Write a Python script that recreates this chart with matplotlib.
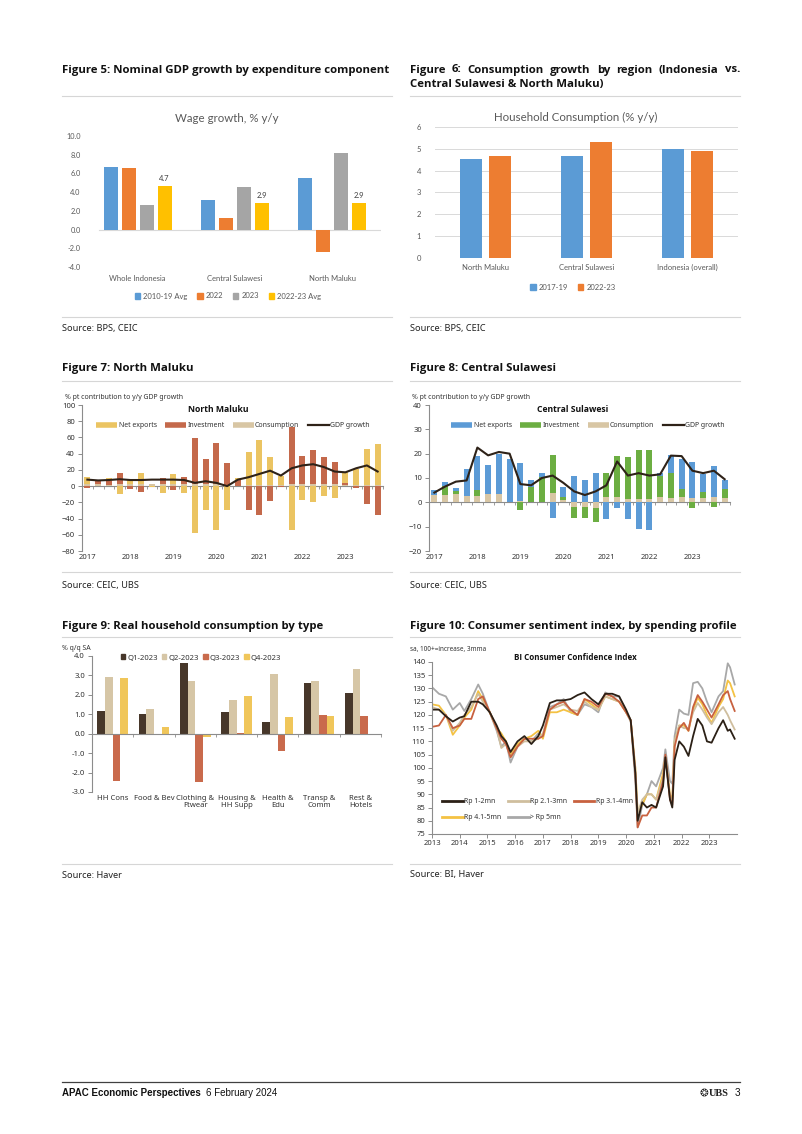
import numpy as np
import matplotlib
matplotlib.use('Agg')
import matplotlib.pyplot as plt
from matplotlib.lines import Line2D
from matplotlib.patches import Patch

plt.rcParams['font.family'] = ['Noto Sans', 'DejaVu Sans']

# ── Data ─────────────────────────────────────────────────────────────────────

# Figure 5: wage growth, % y/y
wage_regions = ['Whole Indonesia', 'Central Sulawesi', 'North Maluku']
wage_names = ['2010-19 Avg', '2022', '2023', '2022-23 Avg']
wage_avg_1019 = [6.7, 3.2, 5.5]
wage_2022 = [6.6, 1.25, -2.45]
wage_2023 = [2.6, 4.5, 8.15]
wage_avg_2223 = [4.65, 2.85, 2.85]
wage_point_labels = ['4.7', '2.9', '2.9']

# Figure 6: household consumption, % y/y
hc_regions = ['North Maluku', 'Central Sulawesi', 'Indonesia (overall)']
hc_2017_19 = [4.52, 4.66, 4.97]
hc_2022_23 = [4.67, 5.31, 4.88]

# Figures 7/8: quarterly contributions, 2017Q1..2023Q4
year_labels = ['2017', '2018', '2019', '2020', '2021', '2022', '2023']

nm_cons = [2, 2, 1, 2, 2, 2, 2, 2, 2, 2, 2, 2, 2, 1, 0, 1, 1, 1, 1, 3, 3, 3, 2, 2, 1, 1, 1, 1]
nm_inv = [-2, 4, 5, 14, -3, -7, 1, 8, -5, 9, 57, 31, 51, 28, 8, -30, -36, -18, -1, 70, 34, 41, 34, 28, 3, -2, -22, -35]
nm_nx = [9, 1, 4, -10, 5, 14, -1, -8, 13, -8, -58, -29, -54, -29, 2, 41, 56, 35, 11, -54, -17, -19, -12, -15, 13, 20, 45, 51]
nm_gdp = [8, 7, 7.5, 8.5, 7.5, 7.5, 8, 8, 8, 7.5, 4, 6, 4, 0, 8, 11, 15, 19, 13, 22, 25.5, 27, 23.5, 18, 17, 22, 25.5, 18]

cs_cons = [3, 3.2, 3.3, 2.7, 2.4, 3.3, 3.5, 0.2, 0.6, 0, 0, 3.7, 1, -2, -2, -2.3, 2, 2, 1.4, 1.5, 1.5, 2, 1.8, 2, 1.8, 1.8, 2, 1.8]
cs_inv = [0, 3.7, 1.3, 0, 2.6, 0, 0, 0, -3.2, 6.2, 10.3, 15.6, 1, -4.4, -4.5, -5.7, 10.1, 16.9, 17.2, 19.9, 20.2, 9, 10.2, 3.5, -2.5, 2.3, -2, 3.7]
cs_nx = [2, 1.5, 1.4, 10.8, 13.9, 11.9, 16.2, 17.5, 15.5, 2.9, 1.6, -6.6, 4.5, 10.8, 9, 12.1, -6.9, -2.5, -6.9, -10.8, -11.5, 1, 7.3, 12.2, 14.8, 7.6, 12.9, 3.5]
cs_gdp = [4, 6.5, 8.5, 9, 22.5, 19.3, 20.7, 20, 7.5, 7, 10, 11, 8, 4.5, 3, 4.5, 7, 16.8, 11, 12, 11, 11.5, 19.2, 19, 13, 12, 13, 9.5]

# Figure 9: real household consumption by type, % q/q SA
hh_types = ['HH Cons', 'Food & Bev', 'Clothing &\nFtwear', 'Housing &\nHH Supp',
            'Health &\nEdu', 'Transp &\nComm', 'Rest &\nHotels']
hh_q1 = [1.18, 1.0, 3.64, 1.14, 0.61, 2.59, 2.09]
hh_q2 = [2.91, 1.27, 2.72, 1.72, 3.05, 2.71, 3.32]
hh_q3 = [-2.44, -0.09, -2.47, 0.03, -0.9, 0.96, 0.93]
hh_q4 = [2.89, 0.37, -0.18, 1.96, 0.87, 0.89, 0.0]

# Figure 10: BI consumer confidence index by spending profile
cci_dates = ['2013-01', '2013-04', '2013-07', '2013-10', '2014-01', '2014-03', '2014-06', '2014-09',
             '2014-11', '2015-02', '2015-05', '2015-07', '2015-09', '2015-11', '2016-02', '2016-05',
             '2016-08', '2016-11', '2017-01', '2017-04', '2017-07', '2017-10', '2018-01', '2018-04',
             '2018-07', '2018-10', '2019-01', '2019-04', '2019-07', '2019-10', '2020-01', '2020-03',
             '2020-05', '2020-06', '2020-08', '2020-10', '2020-12', '2021-02', '2021-05', '2021-06',
             '2021-08', '2021-09', '2021-10', '2021-12', '2022-02', '2022-04', '2022-06', '2022-08',
             '2022-10', '2022-12', '2023-02', '2023-05', '2023-07', '2023-09', '2023-10', '2023-12']
cci_1_2 = [122, 122, 119.5, 117.5, 119, 119.5, 125, 125, 124, 121, 116, 112, 110, 106, 110, 112,
           109, 112, 116, 124.5, 125.5, 125.5, 126, 127.5, 128.5, 126, 124, 128, 128, 127, 122, 118,
           98, 80, 87, 85, 86, 85, 93, 104, 88, 85, 103, 110, 108, 104.5, 112, 118.5,
           116, 110, 109.5, 115, 118, 114, 114.5, 111]
cci_2_3 = [123, 122, 120, 114, 117, 120, 123, 128, 125, 121, 115, 107.5, 109, 104, 108, 110,
           110, 111, 113, 122, 123, 124, 122, 121.5, 125, 123, 122, 127, 126, 125, 121, 118,
           100, 83, 88, 90, 90, 88, 96, 104, 89, 87, 110, 116, 115, 115, 121, 124.5,
           122, 119, 116.5, 121, 123, 120, 118, 114.5]
cci_3_4 = [115.5, 116, 120, 115, 116, 118.5, 118.5, 126, 127, 121, 115, 111, 109, 104, 108, 111,
           111, 111, 112, 122, 124, 125, 122, 120, 126, 125, 123, 128, 127, 125, 121, 118,
           98, 77.5, 82, 82, 85, 85, 95, 105, 88, 86, 108, 115, 117, 114, 123, 127.5,
           125, 122, 119, 124, 127.5, 129, 126, 121.5]
cci_4_5 = [124, 123.5, 120, 112.5, 116, 119, 122, 129, 126, 121, 115, 113, 110, 105, 109, 111,
           112, 114, 111, 121, 121, 122, 121, 120, 126, 124, 122, 127, 126, 125, 121, 118,
           100, 83.5, 86, 90, 90, 88, 98, 104, 90, 88, 110, 116, 116, 114, 122, 126.5,
           124, 120, 117, 123, 126, 133, 132, 127]
cci_5p = [130.5, 128, 127, 122, 124.5, 121.5, 126, 131.5, 128, 121, 114, 108, 110, 102, 108, 111,
          110, 113, 112, 123, 124, 126, 121, 120, 124, 123, 121, 128.5, 127, 127, 121, 117.5,
          95, 77.5, 86, 90, 95, 93, 100, 107, 95, 94, 112, 122, 120.5, 120, 132, 132.5,
          130, 125, 121, 127, 129, 139.5, 138, 131.5]

# ── Page helpers (pixel coordinates, origin top-left) ────────────────────────

W, H = 802, 1134
fig = plt.figure(figsize=(W / 100, H / 100), dpi=100, facecolor='white')


def fx(x):
    return x / W


def fy(y):
    return 1 - y / H


def px_axes(x0, y0, x1, y1):
    return fig.add_axes([fx(x0), fy(y1), (x1 - x0) / W, (y1 - y0) / H])


def page_text(x, y, s, **kw):
    kw.setdefault('va', 'center')
    return fig.text(fx(x), fy(y), s, **kw)


def rule(x0, x1, y, color='#D6D6D6', lw=0.8):
    fig.add_artist(Line2D([fx(x0), fx(x1)], [fy(y), fy(y)],
                          transform=fig.transFigure, color=color, lw=lw))


def text_width(t):
    return t.get_window_extent(fig.canvas.get_renderer()).width


def justified(words, x0, x1, y, **kw):
    texts = [page_text(x0, y, w, ha='left', **kw) for w in words]
    widths = [text_width(t) for t in texts]
    gap = (x1 - x0 - sum(widths)) / (len(words) - 1)
    x = x0
    for t, w in zip(texts, widths):
        t.set_position((fx(x), fy(y)))
        x += w + gap


TITLE = dict(fontsize=8.2, fontweight='bold', color='#111111', family='Open Sans')
SRC = dict(fontsize=6.6, color='#222222')

# section titles, rules and sources
fig.canvas.draw()
page_text(62, 70, 'Figure 5: Nominal GDP growth by expenditure component', **TITLE)
justified('Figure 6: Consumption growth by region (Indonesia vs.'.split(), 410, 740, 70, **TITLE)
page_text(410, 85, 'Central Sulawesi & North Maluku)', **TITLE)
page_text(62, 369, 'Figure 7: North Maluku', **TITLE)
page_text(410, 369, 'Figure 8: Central Sulawesi', **TITLE)
page_text(62, 626, 'Figure 9: Real household consumption by type', **TITLE)
page_text(410, 626, 'Figure 10: Consumer sentiment index, by spending profile', **TITLE)

for x0, x1 in [(62, 392), (410, 740)]:
    rule(x0, x1, 96)
    rule(x0, x1, 317)
    rule(x0, x1, 381)
    rule(x0, x1, 572)
    rule(x0, x1, 637)
    rule(x0, x1, 864)

page_text(62, 328, 'Source: BPS, CEIC', **SRC)
page_text(410, 328, 'Source: BPS, CEIC', **SRC)
page_text(62, 585, 'Source: CEIC, UBS', **SRC)
page_text(410, 585, 'Source: CEIC, UBS', **SRC)
page_text(62, 875, 'Source: Haver', **SRC)
page_text(410, 875, 'Source: BI, Haver', **SRC)

# footer
rule(62, 740, 1082, color='#404040', lw=0.9)
head = page_text(62, 1093, 'APAC Economic Perspectives', fontsize=7, fontweight='bold',
                 color='#111111', family='Liberation Sans')
page_text(62 + text_width(head) + 5, 1093, '6 February 2024', fontsize=7, color='#111111',
          family='Liberation Sans')
page_text(708, 1093, '\u2742', fontsize=7.5, color='#222222', ha='right', family='DejaVu Sans')
page_text(709, 1093, 'UBS', fontsize=7.5, fontweight='bold', color='#222222',
          family='Liberation Serif')
page_text(740, 1093, '3', fontsize=7.2, color='#111111', ha='right', family='Liberation Sans')

# ── Excel-style charts (Figures 5 and 6) ─────────────────────────────────────

XL = ['Lato', 'DejaVu Sans']
XL_GREY = '#595959'
OFFICE = ['#5B9BD5', '#ED7D31', '#A5A5A5', '#FFC000']

# Figure 5
ax = px_axes(89, 136, 381, 267)
x = np.arange(len(wage_regions))
step, bw = 0.185, 0.145
for i, (vals, c) in enumerate(zip([wage_avg_1019, wage_2022, wage_2023, wage_avg_2223], OFFICE)):
    ax.bar(x + (i - 1.5) * step, vals, bw, color=c, linewidth=0, zorder=2)
for xi, v, lab in zip(x, wage_avg_2223, wage_point_labels):
    ax.text(xi + 1.5 * step, v + 0.45, lab, ha='center', va='bottom',
            fontsize=5.5, color='#404040', family=XL)
ax.set_xlim(-0.5, 2.5)
ax.set_ylim(-4, 10)
ax.set_yticks(np.arange(-4, 10.1, 2))
ax.set_yticklabels([f'{v:.1f}' for v in np.arange(-4, 10.1, 2)], family=XL)
ax.axhline(0, xmin=0.035, color='#D9D9D9', lw=0.8, zorder=1)
ax.set_xticks([])
for xi, name in zip(x, wage_regions):
    ax.text(xi, -5.2, name, ha='center', va='center', fontsize=5.5, color=XL_GREY, family=XL)
ax.tick_params(axis='y', length=0, pad=6, labelsize=5.3, labelcolor=XL_GREY)
for s in ax.spines.values():
    s.set_visible(False)
ax.set_facecolor('none')
page_text(227, 118, 'Wage growth, % y/y', fontsize=8.3, color=XL_GREY, ha='center', family=XL)
ax.legend([Patch(color=c) for c in OFFICE], wage_names, loc='center',
          bbox_to_anchor=(fx(228), fy(296)), bbox_transform=fig.transFigure, ncol=4,
          frameon=False, prop={'family': XL, 'size': 5.5}, labelcolor=XL_GREY,
          handlelength=0.7, handleheight=0.7, handletextpad=0.4, columnspacing=1.3)

# Figure 6
ax = px_axes(435, 127, 738, 258)
x = np.arange(len(hc_regions))
ax.bar(x - 0.141, hc_2017_19, 0.22, color=OFFICE[0], linewidth=0, zorder=2)
ax.bar(x + 0.141, hc_2022_23, 0.22, color=OFFICE[1], linewidth=0, zorder=2)
ax.set_xlim(-0.5, 2.5)
ax.set_ylim(0, 6)
ax.set_yticks(range(0, 7))
ax.set_yticklabels([str(v) for v in range(0, 7)], family=XL)
ax.yaxis.grid(True, color='#D9D9D9', lw=0.7)
ax.set_axisbelow(True)
ax.set_xticks([])
for xi, name in zip(x, hc_regions):
    ax.text(xi, -0.45, name, ha='center', va='center', fontsize=5.5, color=XL_GREY, family=XL)
ax.tick_params(axis='y', length=0, pad=10, labelsize=5.5, labelcolor=XL_GREY)
for s in ax.spines.values():
    s.set_visible(False)
page_text(576, 117, 'Household Consumption (% y/y)', fontsize=8.3, color=XL_GREY,
          ha='center', family=XL)
ax.legend([Patch(color=c) for c in OFFICE[:2]], ['2017-19', '2022-23'], loc='center',
          bbox_to_anchor=(fx(573), fy(287)), bbox_transform=fig.transFigure, ncol=2,
          frameon=False, prop={'family': XL, 'size': 5.5}, labelcolor=XL_GREY,
          handlelength=0.7, handleheight=0.7, handletextpad=0.4, columnspacing=1.3)

# ── UBS-style charts (Figures 7-10) ──────────────────────────────────────────

AX_GREY = '#8C8C8C'
LAB = '#333333'
LINE_DARK = '#2E2218'
TAN = '#D8C6A4'


def ubs_axes(box, ylim, yticks):
    ax = px_axes(*box)
    ax.set_ylim(*ylim)
    ax.set_yticks(yticks)
    for side in ['top', 'right']:
        ax.spines[side].set_visible(False)
    for side in ['left', 'bottom']:
        ax.spines[side].set_color(AX_GREY)
        ax.spines[side].set_linewidth(0.8)
    ax.tick_params(axis='y', length=3, width=0.7, color=AX_GREY, pad=2,
                   labelsize=5.5, labelcolor=LAB)
    ax.set_facecolor('none')
    return ax


def stacked(ax, series, colors, width):
    xs = np.arange(len(series[0]))
    pos = np.zeros(len(xs))
    neg = np.zeros(len(xs))
    for vals, c in zip(series, colors):
        v = np.asarray(vals, float)
        base = np.where(v >= 0, pos, neg)
        ax.bar(xs, v, width, bottom=base, color=c, linewidth=0, zorder=2)
        pos += np.where(v >= 0, v, 0)
        neg += np.where(v < 0, v, 0)
    return xs


def contrib_chart(box, ylim, yticks, cons, inv, nx, gdp, colors, title, tx):
    ax = ubs_axes(box, ylim, yticks)
    c_nx, c_inv, c_cons = colors
    xs = stacked(ax, [cons, inv, nx], [c_cons, c_inv, c_nx], 0.58)
    ax.plot(xs, gdp, color=LINE_DARK, lw=1.5, zorder=3)
    ax.set_xlim(-0.5, len(xs) - 0.5)
    ax.spines['bottom'].set_position(('data', 0))
    ax.spines['bottom'].set_zorder(1)
    ax.set_xticks(np.arange(-0.5, len(xs), 1))
    ax.tick_params(axis='x', length=2, width=0.6, color=AX_GREY, labelbottom=False)
    for i, yr in enumerate(year_labels):
        ax.annotate(yr, xy=(i * 4, 0), xycoords=('data', 'axes fraction'),
                    xytext=(0, -2.5), textcoords='offset points', ha='center', va='top',
                    fontsize=5.5, color=LAB)
    page_text(box[0] - 17, 397, '% pt contribution to y/y GDP growth', fontsize=5, color=LAB)
    page_text(tx, 409, title, fontsize=6.2, fontweight='bold', color='#111111', ha='center',
              family='Open Sans')
    handles = [Line2D([], [], color=c_nx, lw=4, solid_capstyle='butt'),
               Line2D([], [], color=c_inv, lw=4, solid_capstyle='butt'),
               Line2D([], [], color=c_cons, lw=4, solid_capstyle='butt'),
               Line2D([], [], color=LINE_DARK, lw=1.6)]
    ax.legend(handles, ['Net exports', 'Investment', 'Consumption', 'GDP growth'],
              loc='center', bbox_to_anchor=(fx(tx + 15), fy(426)), bbox_transform=fig.transFigure,
              ncol=4, frameon=False, fontsize=5, labelcolor=LAB, handlelength=3.0,
              handletextpad=0.2, columnspacing=1.2)
    return ax


contrib_chart((82, 405, 383, 551), (-80, 100), range(-80, 101, 20),
              nm_cons, nm_inv, nm_nx, nm_gdp, ['#EBC462', '#C4694B', TAN],
              'North Maluku', 218)
contrib_chart((429, 405, 730, 551), (-20, 40), range(-20, 41, 10),
              cs_cons, cs_inv, cs_nx, cs_gdp, ['#5C9BD6', '#6CAE42', TAN],
              'Central Sulawesi', 573)

# Figure 9
ax = ubs_axes((92, 656, 381, 792), (-3, 4), np.arange(-3, 4.1, 1))
ax.set_yticklabels([f'{v:.1f}' for v in np.arange(-3, 4.1, 1)])
x = np.arange(len(hh_types))
hh_colors = ['#47372A', '#D6C6A6', '#C96A4C', '#F0C65A']
hh_names = ['Q1-2023', 'Q2-2023', 'Q3-2023', 'Q4-2023']
bw = 0.186
for i, (vals, c) in enumerate(zip([hh_q1, hh_q2, hh_q3, hh_q4], hh_colors)):
    ax.bar(x + (i - 1.5) * bw, vals, bw, color=c, linewidth=0, zorder=2)
ax.set_xlim(-0.5, len(x) - 0.5)
ax.spines['bottom'].set_position(('data', 0))
ax.set_xticks(np.arange(-0.5, len(x), 1))
ax.tick_params(axis='x', length=2, width=0.6, color=AX_GREY, labelbottom=False)
for xi, name in zip(x, hh_types):
    ax.annotate(name, xy=(xi, 0), xycoords=('data', 'axes fraction'), xytext=(0, -2.5),
                textcoords='offset points', ha='center', va='top', fontsize=5.5,
                color=LAB, linespacing=0.95)
page_text(62, 648, '% q/q SA', fontsize=5, color=LAB)
ax.legend([Patch(color=c) for c in hh_colors], hh_names, loc='center',
          bbox_to_anchor=(fx(201), fy(658)), bbox_transform=fig.transFigure, ncol=4,
          frameon=False, fontsize=5.5, labelcolor=LAB, handlelength=0.6, handleheight=0.6,
          handletextpad=0.3, columnspacing=0.5)

# Figure 10
cci_x = [int(d[:4]) + (int(d[5:]) - 1) / 12 for d in cci_dates]
ax = ubs_axes((432, 662, 737, 834), (75, 140), range(75, 141, 5))
cci_series = [('> Rp 5mn', cci_5p, '#A8A8A8'),
              ('Rp 4.1-5mn', cci_4_5, '#F4C243'),
              ('Rp 2.1-3mn', cci_2_3, '#CFBE9E'),
              ('Rp 3.1-4mn', cci_3_4, '#C8613F'),
              ('Rp 1-2mn', cci_1_2, '#2B2016')]
lines = {}
for name, vals, c in cci_series:
    lines[name] = ax.plot(cci_x, vals, color=c, lw=1.3, zorder=2)[0]
ax.set_xlim(2013, 2024)
ax.set_xticks(range(2013, 2024))
ax.tick_params(axis='x', length=3, width=0.7, color=AX_GREY, pad=1.5,
               labelsize=5.5, labelcolor=LAB)
order = ['Rp 1-2mn', 'Rp 4.1-5mn', 'Rp 2.1-3mn', '> Rp 5mn', 'Rp 3.1-4mn']
leg = ax.legend([lines[n] for n in order], order, loc='upper left',
                bbox_to_anchor=(fx(436), fy(792)), bbox_transform=fig.transFigure, ncol=3,
                frameon=False, fontsize=5, labelcolor=LAB, handlelength=3.0,
                handletextpad=0.2, columnspacing=0.9, labelspacing=1.3)
for h in leg.get_lines():
    h.set_linewidth(2)
page_text(410, 649, 'sa, 100+=increase, 3mma', fontsize=4.6, color=LAB)
page_text(575, 657, 'BI Consumer Confidence Index', fontsize=5.8, fontweight='bold',
          color='#111111', ha='center', family='Open Sans')

fig.savefig('out.png', dpi=100, facecolor='white')
